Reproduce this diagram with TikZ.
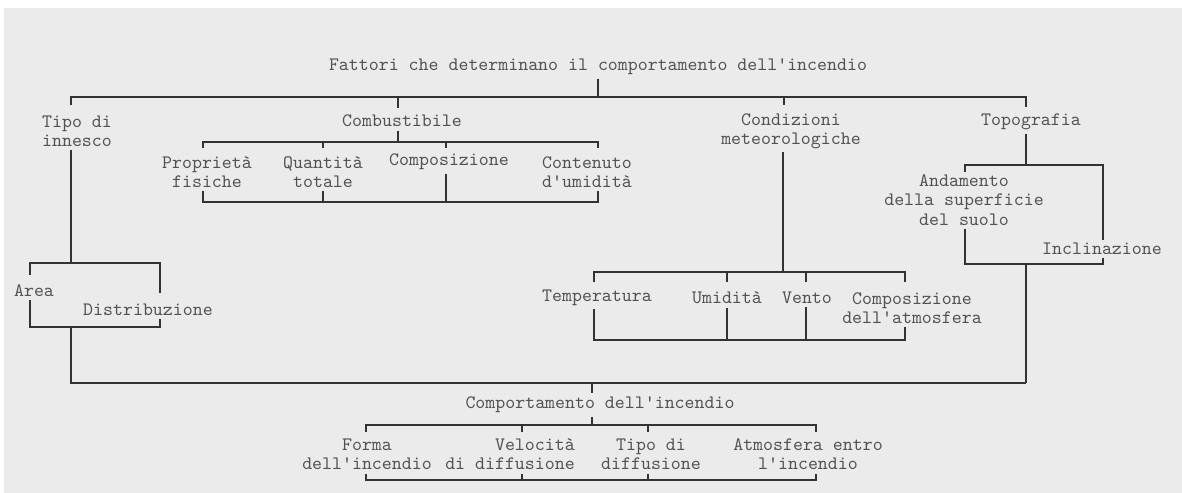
\documentclass[tikz,border=0pt]{standalone}
\usepackage{fontspec}
\usetikzlibrary{positioning}
\definecolor{paper}{RGB}{235,235,235}

\begin{document}
\begin{tikzpicture}[x=0.02cm, y=-0.02cm,
  lbl/.style={font=\ttfamily\fontsize{10.8}{11}\selectfont, text=black!68, align=center, inner sep=0pt, outer sep=2pt},
  ln/.style={draw=black!80, line width=0.7pt}
]
\useasboundingbox (0,0) rectangle (1182,493);
\fill[paper] (4,8) rectangle (1182,493);
% root
\node[lbl] (fat) at (598,67) {Fattori che determinano il comportamento dell'incendio};
% first level
\node[lbl] (tip) at (77,131) {Tipo di\\innesco};
\node[lbl] (com) at (402,121) {Combustibile};
\node[lbl] (cnd) at (791,131) {Condizioni\\meteorologiche};
\node[lbl] (top) at (1031,122) {Topografia};
% combustibile
\node[lbl] (pro) at (207,172) {Proprietà\\fisiche};
\node[lbl] (qua) at (323,172) {Quantità\\totale};
\node[lbl] (cmp) at (449,162) {Composizione};
\node[lbl] (con) at (587,172) {Contenuto\\d'umidità};
% tipo di innesco
\node[lbl] (are) at (34,291) {Area};
\node[lbl] (dis) at (148,310) {Distribuzione};
% condizioni meteorologiche
\node[lbl] (tem) at (597,298) {Temperatura};
\node[lbl] (umi) at (727,298) {Umidità};
\node[lbl] (ven) at (807,298) {Vento};
\node[lbl] (atm) at (912,308) {Composizione\\dell'atmosfera};
% topografia
\node[lbl] (and) at (964,200) {Andamento\\della superficie\\del suolo};
\node[lbl] (inc) at (1102,249) {Inclinazione};
% comportamento
\node[lbl] (cdi) at (600,405) {Comportamento dell'incendio};
\node[lbl] (for) at (367,454) {Forma\\dell'incendio};
\node[lbl, align=right] (vel) at (510,454) {Velocità\\di diffusione};
\node[lbl] (tdi) at (651,454) {Tipo di\\diffusione};
\node[lbl] (atf) at (808,454) {Atmosfera entro\\l'incendio};
% top bar
\draw[ln] (fat.south) -- (fat.south |- 0,97);
\draw[ln] (71,105) -- (71,97) -- (1026,97) -- (1026,107);
\foreach \x/\e in {398/108, 784/105} \draw[ln] (\x,97) -- (\x,\e);
% combustibile bracket
\draw[ln] (com.south -| 398,0) -- (398,142);
\draw[ln] (203,148) -- (203,142) -- (598,142) -- (598,148);
\foreach \x in {323,446} \draw[ln] (\x,142) -- (\x,148);
\draw[ln] (pro.south -| 203,0) -- (203,202) -- (598,202) -- (con.south -| 598,0);
\draw[ln] (qua.south -| 323,0) -- (323,202);
\draw[ln] (cmp.south -| 446,0) -- (446,202);
% tipo di innesco bracket
\draw[ln] (tip.south -| 71,0) -- (71,263);
\draw[ln] (30,275) -- (30,263) -- (160,263) -- (160,293);
\draw[ln] (are.south -| 30,0) -- (30,327) -- (160,327) -- (dis.south -| 160,0);
\draw[ln] (71,327) -- (71,383) -- (1026,383);
% condizioni bracket
\draw[ln] (cnd.south -| 783,0) -- (783,272);
\draw[ln] (594,282) -- (594,272) -- (905,272) -- (905,282);
\foreach \x in {727,806} \draw[ln] (\x,272) -- (\x,282);
\draw[ln] (tem.south -| 594,0) -- (594,340) -- (905,340) -- (atm.south -| 905,0);
\draw[ln] (umi.south) -- (umi.south |- 0,340);
\draw[ln] (ven.south -| 806,0) -- (806,340);
% topografia bracket
\draw[ln] (top.south -| 1026,0) -- (1026,165);
\draw[ln] (965,172) -- (965,165) -- (1103,165) -- (inc.north -| 1103,0);
\draw[ln] (and.south -| 965,0) -- (965,264) -- (1103,264) -- (inc.south -| 1103,0);
\draw[ln] (1026,264) -- (1026,383);
% comportamento bracket
\draw[ln] (592,383) -- (cdi.north -| 592,0);
\draw[ln] (cdi.south -| 592,0) -- (592,425);
\draw[ln] (366,432) -- (366,425) -- (816,425) -- (816,432);
\foreach \x in {522,648} \draw[ln] (\x,425) -- (\x,432);
\draw[ln] (366,474) -- (366,480) -- (816,480) -- (816,474);
\foreach \x in {522,648} \draw[ln] (\x,474) -- (\x,480);
\end{tikzpicture}
\end{document}
